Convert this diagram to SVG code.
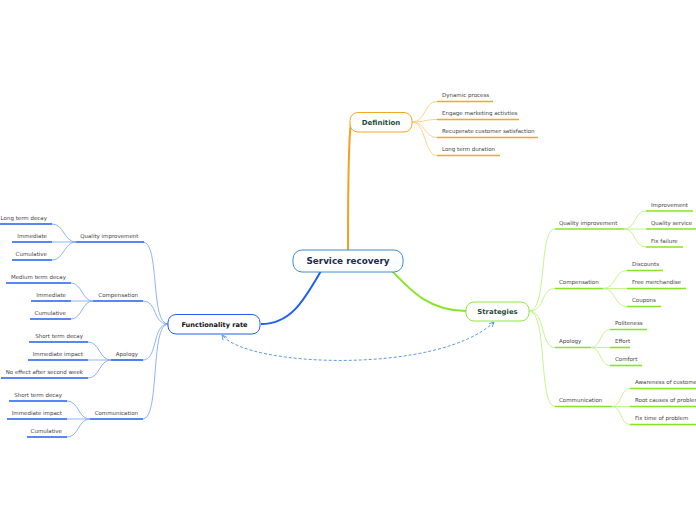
<svg xmlns="http://www.w3.org/2000/svg" width="696" height="520" viewBox="0 0 696 520">
<defs>
<style>
text{font-family:"DejaVu Sans","Verdana",sans-serif;}
.t{font-size:5.5px;fill:#444;}
.r{text-anchor:end;}
.node{fill:#fff;}
.nt{font-weight:bold;text-anchor:middle;}
.bu{stroke:#1f5ef2;stroke-width:1.6;fill:none;}
.bc{stroke:#86a9f7;stroke-width:0.9;fill:none;}
.gu{stroke:#84e61c;stroke-width:1.6;fill:none;}
.gc{stroke:#bdf386;stroke-width:0.9;fill:none;}
.ou{stroke:#f5a623;stroke-width:1.4;fill:none;}
.oc{stroke:#ffcc7a;stroke-width:0.9;fill:none;}
</style>
<marker id="arr" viewBox="0 0 10 10" refX="9" refY="5" markerWidth="6" markerHeight="6" orient="auto-start-reverse" markerUnits="userSpaceOnUse">
<path d="M1,1 L9,5 L1,9" fill="none" stroke="#5b9ae2" stroke-width="1.5"/>
</marker>
</defs>
<rect width="696" height="520" fill="#fff"/>

<g id="connectors">
<path d="M348,250 C348,180 349,135 351,123" stroke="#f5a020" stroke-width="2" fill="none"/>
<path d="M392,271 C412,292 430,311 466,311" stroke="#88e62a" stroke-width="2" fill="none"/>
<path d="M321,271 C305,298 292,324 261,324" stroke="#1f5ef2" stroke-width="2" fill="none"/>
<path d="M494,322 C440,374 248,368 222,335" stroke="#5b9ae2" stroke-width="1" stroke-dasharray="3,2" fill="none" marker-start="url(#arr)" marker-end="url(#arr)"/>
<!-- definition children -->
<path class="oc" d="M412,122 C426,122 424,101.5 437,101.5"/>
<path class="oc" d="M412,122 C426,122 424,119.5 437,119.5"/>
<path class="oc" d="M412,122 C426,122 424,137.5 437,137.5"/>
<path class="oc" d="M412,122 C426,122 424,155.5 437,155.5"/>
<!-- strategies children -->
<path class="gc" d="M529,311 C548,311 538,229 555,229"/>
<path class="gc" d="M529,311 C546,311 540,288.5 555,288.5"/>
<path class="gc" d="M529,311 C546,311 540,347.5 555,347.5"/>
<path class="gc" d="M529,311 C548,311 538,406.5 555,406.5"/>
<path class="gc" d="M624,229 C636,229 634,211 646,211"/>
<path class="gc" d="M624,229 L646,229"/>
<path class="gc" d="M624,229 C636,229 634,247 646,247"/>
<path class="gc" d="M603,288.5 C616,288.5 614,270.5 627,270.5"/>
<path class="gc" d="M603,288.5 L627,288.5"/>
<path class="gc" d="M603,288.5 C616,288.5 614,306.5 627,306.5"/>
<path class="gc" d="M591,347.5 C601,347.5 600,329.5 610,329.5"/>
<path class="gc" d="M591,347.5 L610,347.5"/>
<path class="gc" d="M591,347.5 C601,347.5 600,365.5 610,365.5"/>
<path class="gc" d="M612,406.5 C622,406.5 620,388.5 630,388.5"/>
<path class="gc" d="M612,406.5 L630,406.5"/>
<path class="gc" d="M612,406.5 C622,406.5 620,424.5 630,424.5"/>
<!-- functionality children -->
<path class="bc" d="M168,324 C150,324 160,242 143,242"/>
<path class="bc" d="M168,324 C152,324 158,301 143,301"/>
<path class="bc" d="M168,324 C152,324 158,360 143,360"/>
<path class="bc" d="M168,324 C150,324 160,419 143,419"/>
<path class="bc" d="M76,242 C64,242 64,224 52,224"/>
<path class="bc" d="M76,242 L52,242"/>
<path class="bc" d="M76,242 C64,242 64,260 52,260"/>
<path class="bc" d="M93,301 C82,301 82,283 71,283"/>
<path class="bc" d="M93,301 L71,301"/>
<path class="bc" d="M93,301 C82,301 82,319 71,319"/>
<path class="bc" d="M111,360 C99,360 100,342 88,342"/>
<path class="bc" d="M111,360 L88,360"/>
<path class="bc" d="M111,360 C99,360 100,378 88,378"/>
<path class="bc" d="M90,419 C78,419 79,401 67,401"/>
<path class="bc" d="M90,419 L67,419"/>
<path class="bc" d="M90,419 C78,419 79,437 67,437"/>
</g>

<g id="central">
<rect class="node" x="293" y="250" width="110" height="22" rx="9" stroke="#3b8cd4" stroke-width="1"/>
<text class="nt" x="348" y="264.2" font-size="8.8" fill="#1c2b4f">Service recovery</text>
</g>

<g id="definition">
<rect class="node" x="350" y="112.5" width="62" height="19.5" rx="8" stroke="#f5a623" stroke-width="1"/>
<text class="nt" x="381" y="124.7" font-size="7" fill="#1f4d3b">Definition</text>
</g>
<g id="def-children">
<line class="ou" x1="437" y1="101.5" x2="493" y2="101.5"/><text class="t" x="442" y="97">Dynamic process</text>
<line class="ou" x1="437" y1="119.5" x2="519" y2="119.5"/><text class="t" x="442" y="115">Engage marketing activties</text>
<line class="ou" x1="437" y1="137.5" x2="538" y2="137.5"/><text class="t" x="442" y="133">Recuperate customer satisfaction</text>
<line class="ou" x1="437" y1="155.5" x2="500" y2="155.5"/><text class="t" x="442" y="151">Long term duration</text>
</g>

<g id="strategies">
<rect class="node" x="466" y="302" width="63" height="19" rx="8" stroke="#90e840" stroke-width="1"/>
<text class="nt" x="497.5" y="314" font-size="6.9" fill="#1f4d3b">Strategies</text>
</g>
<g id="str-quality">
<line class="gu" x1="555" y1="229" x2="624" y2="229"/><text class="t" x="559" y="225">Quality improvement</text>
<line class="gu" x1="646" y1="211" x2="693" y2="211"/><text class="t" x="651" y="207">Improvement</text>
<line class="gu" x1="646" y1="229" x2="696" y2="229"/><text class="t" x="651" y="225">Quality service</text>
<line class="gu" x1="646" y1="247" x2="683" y2="247"/><text class="t" x="651" y="243">Fix failure</text>
</g>
<g id="str-compensation">
<line class="gu" x1="555" y1="288.5" x2="603" y2="288.5"/><text class="t" x="559" y="284">Compensation</text>
<line class="gu" x1="627" y1="270.5" x2="663" y2="270.5"/><text class="t" x="632" y="266">Discounts</text>
<line class="gu" x1="627" y1="288.5" x2="686" y2="288.5"/><text class="t" x="632" y="284">Free merchandise</text>
<line class="gu" x1="627" y1="306.5" x2="661" y2="306.5"/><text class="t" x="632" y="302">Coupons</text>
</g>
<g id="str-apology">
<line class="gu" x1="555" y1="347.5" x2="591" y2="347.5"/><text class="t" x="559" y="343">Apology</text>
<line class="gu" x1="610" y1="329.5" x2="647" y2="329.5"/><text class="t" x="615" y="325">Politeness</text>
<line class="gu" x1="610" y1="347.5" x2="630" y2="347.5"/><text class="t" x="615" y="343">Effort</text>
<line class="gu" x1="610" y1="365.5" x2="642" y2="365.5"/><text class="t" x="615" y="361">Comfort</text>
</g>
<g id="str-communication">
<line class="gu" x1="555" y1="406.5" x2="612" y2="406.5"/><text class="t" x="559" y="402">Communication</text>
<line class="gu" x1="630" y1="388.5" x2="696" y2="388.5"/><text class="t" x="635" y="384">Awareness of customer</text>
<line class="gu" x1="630" y1="406.5" x2="696" y2="406.5"/><text class="t" x="635" y="402">Root causes of problem</text>
<line class="gu" x1="630" y1="424.5" x2="696" y2="424.5"/><text class="t" x="635" y="420">Fix time of problem</text>
</g>

<g id="functionality">
<rect class="node" x="168" y="314.5" width="92" height="19.5" rx="8" stroke="#1f5ef2" stroke-width="1"/>
<text class="nt" x="214.5" y="326.7" font-size="6.6" fill="#111">Functionality rate</text>
</g>
<g id="fn-quality">
<line class="bu" x1="76" y1="242" x2="144" y2="242"/><text class="t r" x="138.5" y="238">Quality improvement</text>
<line class="bu" x1="0" y1="224" x2="52" y2="224"/><text class="t r" x="47" y="220">Long term decay</text>
<line class="bu" x1="12" y1="242" x2="52" y2="242"/><text class="t r" x="47" y="238">Immediate</text>
<line class="bu" x1="12" y1="260" x2="52" y2="260"/><text class="t r" x="47" y="256">Cumulative</text>
</g>
<g id="fn-compensation">
<line class="bu" x1="93" y1="301" x2="143" y2="301"/><text class="t r" x="138" y="297">Compensation</text>
<line class="bu" x1="6" y1="283" x2="71" y2="283"/><text class="t r" x="66" y="279">Medium term decay</text>
<line class="bu" x1="31" y1="301" x2="71" y2="301"/><text class="t r" x="66" y="297">Immediate</text>
<line class="bu" x1="30" y1="319" x2="71" y2="319"/><text class="t r" x="66" y="315">Cumulative</text>
</g>
<g id="fn-apology">
<line class="bu" x1="111" y1="360" x2="143" y2="360"/><text class="t r" x="138" y="356">Apology</text>
<line class="bu" x1="29" y1="342" x2="88" y2="342"/><text class="t r" x="83" y="338">Short term decay</text>
<line class="bu" x1="28" y1="360" x2="88" y2="360"/><text class="t r" x="83" y="356">Immediate impact</text>
<line class="bu" x1="1" y1="378" x2="88" y2="378"/><text class="t r" x="83" y="374">No effect after second week</text>
</g>
<g id="fn-communication">
<line class="bu" x1="90" y1="419" x2="143" y2="419"/><text class="t r" x="138" y="415">Communication</text>
<line class="bu" x1="9" y1="401" x2="67" y2="401"/><text class="t r" x="62" y="397">Short term decay</text>
<line class="bu" x1="7" y1="419" x2="67" y2="419"/><text class="t r" x="62" y="415">Immediate impact</text>
<line class="bu" x1="27" y1="437" x2="67" y2="437"/><text class="t r" x="62" y="433">Cumulative</text>
</g>
</svg>
